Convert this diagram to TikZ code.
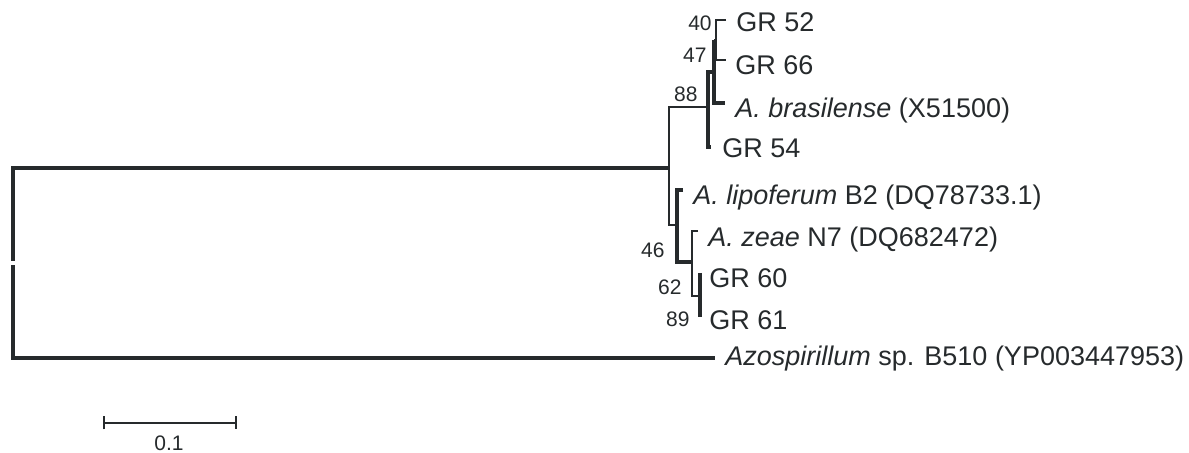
\documentclass[tikz,border=0pt]{standalone}
\usepackage{fontspec}
\setmainfont{Liberation Sans}
\usetikzlibrary{arrows.meta}
\definecolor{ink}{RGB}{38,42,44}
\tikzset{
  branch/.style={draw=ink, line width=#1, line join=miter},
  branch/.default=0.8pt,
  leaf/.style={font=\fontsize{13.5}{13.5}\selectfont, text=ink, anchor=base west, inner sep=0pt},
  boot/.style={font=\fontsize{10.5}{10.5}\selectfont, text=ink, anchor=base east, inner sep=0pt},
}
\begin{document}
\begin{tikzpicture}[x=0.5pt, y=-0.5pt]
\useasboundingbox (0,0) rectangle (1189,453);
% internal nodes
\coordinate (root) at (13,263);
\coordinate (nA) at (669,168);
\coordinate (n88) at (708,107);
\coordinate (n47) at (714,72);
\coordinate (n40) at (716,40);
\coordinate (nL) at (677,225);
\coordinate (n62) at (692,262);
\coordinate (n89) at (700,296);
% leaf tips and labels
\foreach \name/\tx/\ty/\lx/\ly/\txt in {
    gr52/726/20/736/32/{GR 52},
    gr66/726/60/735/75/{GR 66},
    bras/725/103/735/118/{\textit{A. brasilense} (X51500)},
    gr54/711/147/722/158/{GR 54},
    lipo/683/190/693/205/{\textit{A. lipoferum} B2 (DQ78733.1)},
    zeae/698/231/708/247/{\textit{A. zeae} N7 (DQ682472)},
    gr60/700/273/709/288/{GR 60},
    gr61/700/317/709/330/{GR 61},
    b510/715/358/725/366/{\textit{Azospirillum} sp. B510 (YP003447953)}
} {
    \coordinate (t\name) at (\tx,\ty);
    \node[leaf] (\name) at (\lx,\ly) {\txt};
}
% branches
\draw[branch=2pt, shorten <=1.2pt] (root) -- (root |- nA) -- (nA);
\draw[branch=2pt, shorten <=1.2pt] (root) -- (root |- tb510) -- (tb510);
\draw[branch=1.2pt] (n88) -- (nA |- n88) -- (nA |- nL) -- (nL);
\draw[branch=2pt] (n47) -- (n88 |- n47) -- (n88 |- tgr54) -- (tgr54);
\draw[branch=2pt] (n47 |- n40) -- (n47 |- tbras) -- (tbras);
\draw[branch] (n47 |- n40) -- (n40);
\draw[branch] (tgr52) -- (n40 |- tgr52) -- (n40 |- tgr66) -- (tgr66);
\draw[branch=2pt] (tlipo) -- (nL |- tlipo) -- (nL |- n62) -- (n62);
\draw[branch] (tzeae) -- (n62 |- tzeae) -- (n62 |- n89) -- (n89);
\draw[branch=1.8pt] (n89 |- tgr60) -- (n89 |- tgr61);
% bootstrap values
\foreach \val/\bx/\by in {40/712/31, 47/707/63, 88/698/102, 46/665/258, 62/682/295, 89/690/327}
    \node[boot] (b\val) at (\bx,\by) {\val};
% scale bar
\coordinate (sbl) at (103,423);
\coordinate (sbr) at (237,423);
\draw[branch, {Bar[width=6.5pt]}-{Bar[width=6.5pt]}] (sbl) -- (sbr);
\node[boot, anchor=base] (sbval) at (169,451) {0.1};
\end{tikzpicture}
\end{document}
